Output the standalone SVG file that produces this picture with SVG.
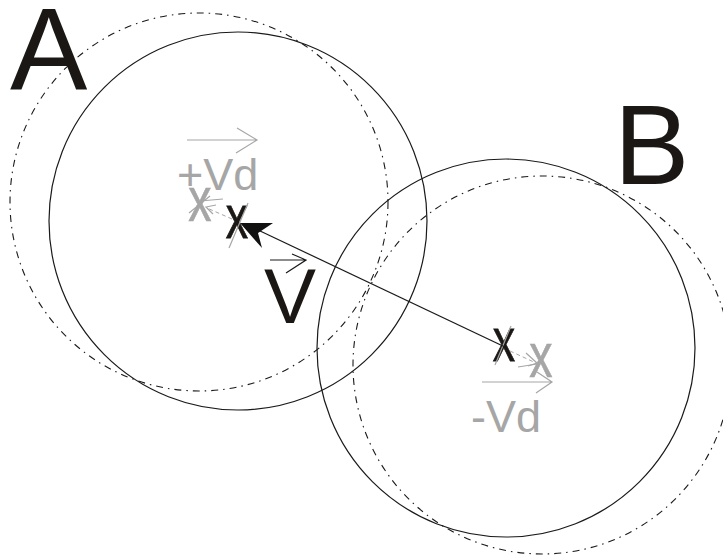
<svg xmlns="http://www.w3.org/2000/svg" width="723" height="555" viewBox="0 0 723 555">
<style>
.solid{fill:none;stroke:#1a1a1a;stroke-width:1.2}
.dd{fill:none;stroke:#1a1a1a;stroke-width:1.1;stroke-dasharray:7 5 1.5 5}
.big{font-family:"Liberation Sans",Arial,sans-serif;fill:#1a1714}
.gray{font-family:"Liberation Sans",Arial,sans-serif;fill:#a6a6a6}
.xb{font-family:"Liberation Sans",Arial,sans-serif;fill:#1a1714;stroke:#1a1714;stroke-width:0.8}
.xg{font-family:"Liberation Sans",Arial,sans-serif;fill:#a6a6a6;stroke:#a6a6a6;stroke-width:0.6}
.gl{fill:none;stroke:#a6a6a6;stroke-width:1.2}
.gd{fill:none;stroke:#a6a6a6;stroke-width:1;stroke-dasharray:4 3}
.bl{fill:none;stroke:#1a1a1a;stroke-width:1.2}
</style>
<rect width="723" height="555" fill="#ffffff"/>
<g id="circleA">
<circle class="dd" cx="199" cy="202" r="189"/>
<circle class="solid" cx="238" cy="221" r="189"/>
<text class="big" x="10" y="90" font-size="116">A</text>
</g>
<g id="circleB">
<circle class="dd" cx="542" cy="365" r="189"/>
<circle class="solid" cx="506" cy="348" r="189"/>
<text class="big" x="614" y="184" font-size="113">B</text>
</g>
<g id="centerA">
<text class="xg" font-size="62" text-anchor="middle" transform="translate(200,221) scale(0.75,1)">x</text>
<line class="gl" x1="200" y1="201" x2="223" y2="199"/>
<line class="gl" x1="189" y1="213" x2="210" y2="196"/>
<text class="xb" font-size="62" text-anchor="middle" transform="translate(237,238) scale(0.72,1)">x</text>
<line class="gl" x1="229" y1="248" x2="248" y2="203"/>
<line class="gd" x1="232" y1="219" x2="207" y2="208"/>
<path class="gl" d="M216,205 L206,207 L213,214"/>
</g>
<g id="centerB">
<text class="xb" font-size="62" text-anchor="middle" transform="translate(504,361) scale(0.72,1)">x</text>
<line class="gl" x1="495" y1="365" x2="511" y2="326"/>
<text class="xg" font-size="62" text-anchor="middle" transform="translate(541,377) scale(0.75,1)">x</text>
<line class="gl" x1="518" y1="367" x2="537" y2="364"/>
<line class="gd" x1="510" y1="351" x2="536" y2="363"/>
<path class="gl" d="M526,353 L537,363 L528,366"/>
</g>
<g id="labels">
<text class="gray" x="177" y="190" font-size="45">+Vd</text>
<path class="gl" d="M187,140 H257 M237,128 L257,140 L236,153"/>
<text class="gray" x="471" y="432" font-size="45">-Vd</text>
<path class="gl" d="M482,382 H552 M537,372 L552,382 L536,393"/>
<text class="big" x="264" y="323" font-size="78">V</text>
<path class="bl" d="M270,260 H306 M292,254 L306,260 L286,273"/>
</g>
<g id="connectors">
<line class="bl" x1="505" y1="347" x2="258" y2="230"/>
<path d="M240,223 L273,223 L258,233 L262,248 Z" fill="#111"/>
</g>
</svg>
